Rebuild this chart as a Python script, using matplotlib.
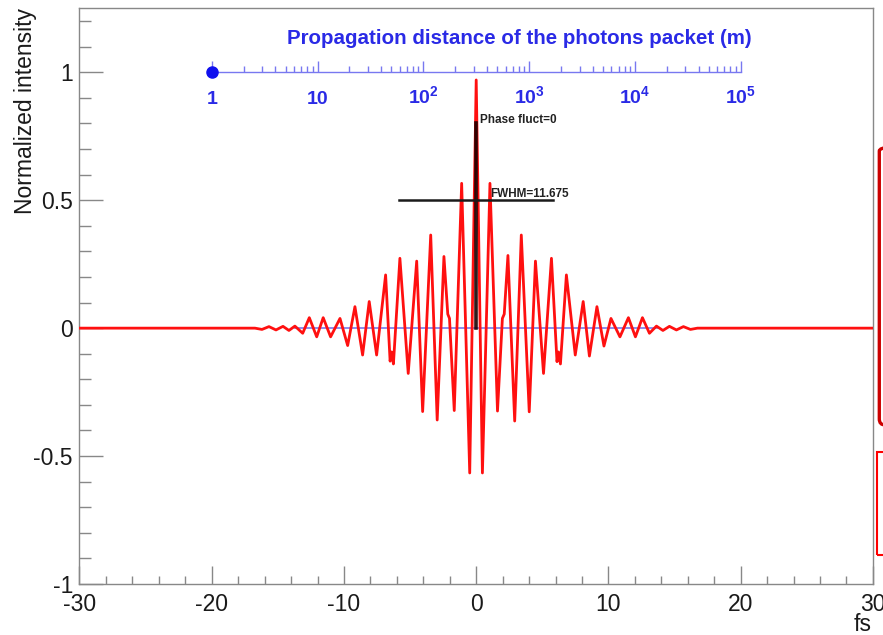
import matplotlib
matplotlib.use("Agg")
import matplotlib.pyplot as plt
from matplotlib.ticker import MultipleLocator, FuncFormatter, FixedLocator, FixedFormatter, LogLocator, NullFormatter
from matplotlib.patches import FancyBboxPatch, Rectangle

plt.rcParams['font.family'] = ['Liberation Sans', 'DejaVu Sans']
plt.rcParams['axes.unicode_minus'] = False
plt.rcParams['mathtext.fontset'] = 'custom'
plt.rcParams['mathtext.bf'] = 'Liberation Sans:bold'
plt.rcParams['mathtext.rm'] = 'Liberation Sans:bold'

# ---------------- data ----------------
time_fs = [-30.0, -16.73, -16.20, -15.67, -15.14, -14.61, -14.16, -13.71, -13.12, -12.62,
           -12.06, -11.57, -11.01, -10.30, -9.72, -9.17, -8.59, -8.09, -7.53, -6.85,
           -6.51, -6.40, -6.26, -5.77, -5.14, -4.50, -4.05, -3.44, -2.95, -2.44,
           -2.15, -2.02, -1.66, -1.10, -0.49, 0.0,
           0.47, 1.04, 1.61, 1.98, 2.12, 2.40, 2.91, 3.41, 4.01, 4.48,
           5.09, 5.69, 6.11, 6.22, 6.37, 6.82, 7.49, 8.09, 8.56, 9.13,
           9.66, 10.19, 10.87, 11.51, 12.04, 12.57, 13.10, 13.63, 14.12, 14.61,
           15.14, 15.67, 16.20, 16.73, 30.0]
intensity = [0.0, 0.0, -0.005, 0.006, -0.007, 0.007, -0.009, 0.008, -0.020, 0.041,
             -0.034, 0.041, -0.034, 0.038, -0.068, 0.084, -0.105, 0.104, -0.105, 0.208,
             -0.129, -0.093, -0.140, 0.273, -0.177, 0.262, -0.326, 0.364, -0.359, 0.280,
             0.055, 0.038, -0.322, 0.566, -0.566, 0.970,
             -0.566, 0.566, -0.324, 0.038, 0.055, 0.284, -0.363, 0.364, -0.327, 0.262,
             -0.177, 0.273, -0.131, -0.093, -0.140, 0.208, -0.105, 0.104, -0.109, 0.084,
             -0.070, 0.038, -0.034, 0.041, -0.034, 0.041, -0.020, 0.008, -0.009, 0.007,
             -0.007, 0.006, -0.005, 0.0, 0.0]

zero_ref_fs = [-13.7, 13.7]
zero_ref_val = [0.0, 0.0]

phase_marker_fs = [0.0, 0.0]
phase_marker_val = [0.0, 0.8]
phase_fluct = 0

fwhm = 11.675
fwhm_level = 0.5

distances_m = [1, 10, 100, 1000, 10000, 100000]
distance_labels = ['1', '10', r'$\mathbf{10^{2}}$', r'$\mathbf{10^{3}}$',
                   r'$\mathbf{10^{4}}$', r'$\mathbf{10^{5}}$']
current_distance_m = [1]

x_ticks = [-30, -20, -10, 0, 10, 20, 30]
y_ticks = [-1, -0.5, 0, 0.5, 1]

# ---------------- figure ----------------
fig = plt.figure(figsize=(8.83, 6.35), dpi=100)
ax = fig.add_axes([0.0900, 0.0803, 0.8986, 0.9066])

grey = '#888888'
blue_line = '#7878f0'
blue_text = '#2a2ae6'

ax.plot(zero_ref_fs, zero_ref_val, color='#8c8cf0', lw=1.4, zorder=2)
ax.plot(time_fs, intensity, color='#ff1010', lw=2.0, solid_joinstyle='round', zorder=3)
ax.plot(phase_marker_fs, phase_marker_val, color='#1a0000', lw=2.6, alpha=0.9, zorder=4)
ax.plot([-fwhm / 2, fwhm / 2], [fwhm_level, fwhm_level], color='#1a1a1a', lw=1.8, zorder=4)

ax.text(0.3, 0.812, f'Phase fluct={phase_fluct}', fontsize=8.5, fontweight='bold',
        color='#222222', ha='left', va='center', zorder=5)
ax.text(1.05, 0.524, f'FWHM={fwhm}', fontsize=8.5, fontweight='bold',
        color='#222222', ha='left', va='center', zorder=5)

ax.set_xlim(-30, 30)
ax.set_ylim(-1, 1.25)
ax.xaxis.set_major_locator(FixedLocator(x_ticks))
ax.xaxis.set_minor_locator(MultipleLocator(2))
ax.yaxis.set_major_locator(FixedLocator(y_ticks))
ax.yaxis.set_minor_locator(MultipleLocator(0.1))
ax.xaxis.set_major_formatter(FuncFormatter(lambda v, p: f'{v:g}'))
ax.yaxis.set_major_formatter(FuncFormatter(lambda v, p: f'{v:g}'))

for s in ax.spines.values():
    s.set_color(grey)
    s.set_linewidth(1.0)

ax.tick_params(axis='both', which='both', direction='in', color=grey, width=1.0,
               labelcolor='#1a1a1a', labelsize=16.5, top=False, right=False)
ax.tick_params(axis='y', which='major', length=17, pad=4.7)
ax.tick_params(axis='y', which='minor', length=8.6)
ax.tick_params(axis='x', which='major', length=13, pad=6.5)
ax.tick_params(axis='x', which='minor', length=5.8)

ax.set_ylabel('Normalized intensity', fontsize=16.5, color='#1a1a1a', loc='top')
ax.yaxis.set_label_coords(-0.054, 1.0)
ax.set_xlabel('fs', fontsize=16.5, color='#1a1a1a', loc='right')
ax.xaxis.set_label_coords(0.998, -0.05)

# ---------------- propagation-distance axis ----------------
ax2 = ax.inset_axes([-20, 1.0, 40, 0.08], transform=ax.transData)
ax2.set_xscale('log')
ax2.set_xlim(distances_m[0], distances_m[-1])
ax2.set_ylim(0, 1)
ax2.patch.set_alpha(0)
for k in ['top', 'left', 'right']:
    ax2.spines[k].set_visible(False)
ax2.spines['bottom'].set_color(blue_line)
ax2.spines['bottom'].set_linewidth(1.0)
ax2.set_yticks([])
ax2.xaxis.set_major_locator(FixedLocator(distances_m))
ax2.xaxis.set_major_formatter(FixedFormatter(distance_labels))
ax2.xaxis.set_minor_locator(LogLocator(base=10, subs=range(2, 10)))
ax2.xaxis.set_minor_formatter(NullFormatter())
ax2.tick_params(axis='x', which='both', direction='in', color=blue_line, width=1.0,
                labelcolor=blue_text, labelsize=14, pad=22.5)
ax2.tick_params(axis='x', which='major', length=8)
ax2.tick_params(axis='x', which='minor', length=4)
for lab in ax2.get_xticklabels():
    lab.set_fontweight('bold')
    lab.set_va('baseline')
ax2.plot(current_distance_m, [0], 'o', color='#1010ee', ms=8, clip_on=False, zorder=5)
ax2.annotate('Propagation distance of the photons packet (m)', xy=(1, 0),
             xycoords='axes fraction', xytext=(11, 34), textcoords='offset pixels',
             ha='right', va='center', fontsize=14.8, fontweight='bold', color=blue_text)

# ---------------- legend boxes cut at the right edge ----------------
fig.add_artist(FancyBboxPatch((8.793, 2.10), 0.5, 2.80,
                              boxstyle='round,pad=0,rounding_size=0.06',
                              transform=fig.dpi_scale_trans, ec='#cc0000', fc='none', lw=2.4))
fig.add_artist(Rectangle((8.773, 0.80), 0.5, 1.03, transform=fig.dpi_scale_trans,
                         ec='#ff0000', fc='none', lw=1.5))

fig.savefig('out.png', dpi=100)
